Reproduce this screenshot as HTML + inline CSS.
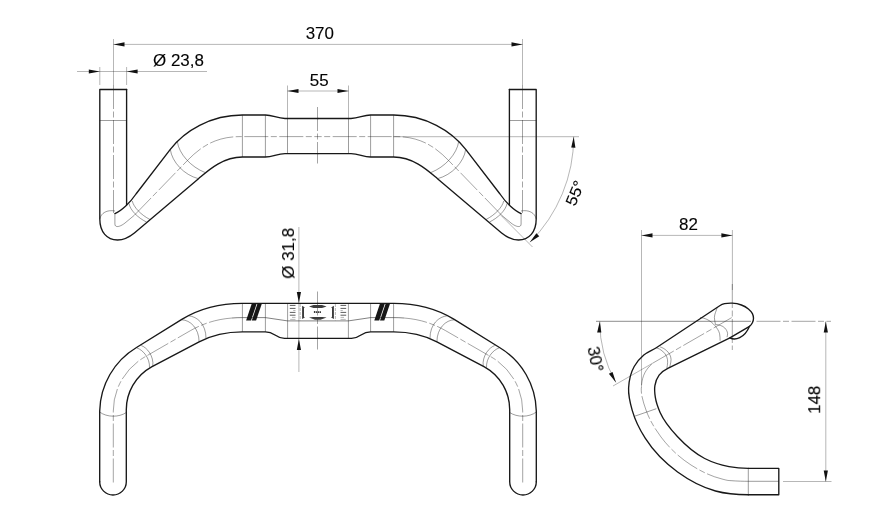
<!DOCTYPE html>
<html><head><meta charset="utf-8"><title>Handlebar drawing</title>
<style>
html,body{margin:0;padding:0;background:#fff;}
body{width:888px;height:521px;overflow:hidden;font-family:"Liberation Sans",sans-serif;}
svg{display:block;}
</style></head><body>
<svg width="888" height="521" viewBox="0 0 888 521">
<rect width="888" height="521" fill="#fff"/>
<g fill="none" stroke="#181818" stroke-width="1.35" stroke-linejoin="round" stroke-linecap="round">
<path d="M126.6,89.5 H99.8 V219 C99.8,232 107,240 117.5,240 C124,240 129.5,237 134.4,233 L198.5,178.7 C207,171.5 222,157 242.4,157 L265.4,157 C273,157 277,153.6 285,153.6 L287.5,153.6 L318,153.6"/>
<path d="M126.6,89.5 V205"/>
<path d="M114.9,213.6 C121,211 130,203 136,194 L170.3,149.4 C184.3,131 210.5,115 242.4,115 L265.4,115 C273,115 277,118.5 285,118.5 L287.5,118.5 L318,118.5"/>
<g transform="matrix(-1 0 0 1 636.0 0)">
<path d="M126.6,89.5 H99.8 V219 C99.8,232 107,240 117.5,240 C124,240 129.5,237 134.4,233 L198.5,178.7 C207,171.5 222,157 242.4,157 L265.4,157 C273,157 277,153.6 285,153.6 L287.5,153.6 L318,153.6"/>
<path d="M126.6,89.5 V205"/>
<path d="M114.9,213.6 C121,211 130,203 136,194 L170.3,149.4 C184.3,131 210.5,115 242.4,115 L265.4,115 C273,115 277,118.5 285,118.5 L287.5,118.5 L318,118.5"/>
</g>
<path d="M99.7,481.7 V411 A76,76 0 0 1 136.5,347.5 L181.8,319.4 C198,309.5 218,303.4 242.4,303.4 L318,303.4"/>
<path d="M99.7,481.7 A13.3,13.3 0 0 0 126.3,481.7 V411 A49,49 0 0 1 151.6,366.9 L199.1,341.8 C212,335 226,331.8 242.4,331.8 L265.4,331.8 C269.5,331.8 271.5,332.6 275,335 C278.5,337.4 280.5,338.4 284.5,338.4 L287.6,338.4 L318,338.4"/>
<g transform="matrix(-1 0 0 1 636.0 0)">
<path d="M99.7,481.7 V411 A76,76 0 0 1 136.5,347.5 L181.8,319.4 C198,309.5 218,303.4 242.4,303.4 L318,303.4"/>
<path d="M99.7,481.7 A13.3,13.3 0 0 0 126.3,481.7 V411 A49,49 0 0 1 151.6,366.9 L199.1,341.8 C212,335 226,331.8 242.4,331.8 L265.4,331.8 C269.5,331.8 271.5,332.6 275,335 C278.5,337.4 280.5,338.4 284.5,338.4 L287.6,338.4 L318,338.4"/>
</g></g><g fill="none" stroke="#1a1a1a" stroke-width="0.43">
<path d="M99.8,120.5 H126.6"/>
<path d="M99.8,219 C101,213 107,209.5 115,211"/>
<path d="M114.9,213.6 V224 C114.9,228 120,227 125,223 L134.4,215.2"/>
<path d="M129,203.5 C130,210 138,218 146.5,222"/>
<path d="M132.3,201 C133.5,207 141,215 150,219.5"/>
<path d="M170.3,149.4 C172,162 184,175 198.5,178.7"/>
<path d="M177.3,141.5 C179,154 191,167 205,172.5"/>
<path d="M242.4,115 V157 M265.4,115 V157 M287.5,118.5 V153.6"/>
<g transform="matrix(-1 0 0 1 636.0 0)">
<path d="M99.8,120.5 H126.6"/>
<path d="M99.8,219 C101,213 107,209.5 115,211"/>
<path d="M114.9,213.6 V224 C114.9,228 120,227 125,223 L134.4,215.2"/>
<path d="M129,203.5 C130,210 138,218 146.5,222"/>
<path d="M132.3,201 C133.5,207 141,215 150,219.5"/>
<path d="M170.3,149.4 C172,162 184,175 198.5,178.7"/>
<path d="M177.3,141.5 C179,154 191,167 205,172.5"/>
<path d="M242.4,115 V157 M265.4,115 V157 M287.5,118.5 V153.6"/>
</g>
<path d="M242.4,303.4 V331.8 M265.4,303.4 V331.8 M287.6,303.4 V338.4"/>
<path d="M99.6,412 C107,417.5 119,417.5 126.3,412.5"/>
<path d="M232,318 C235,317.7 239,317.6 242.4,317.6 L265.4,317.6 L287.6,320.9 L318,320.9" stroke="#1a1a1a" stroke-width="0.55"/>
<path d="M136.9,347.9 C143,350 150,358 149.5,367.7"/>
<path d="M141.2,345.5 C147,347.5 154,356 152.8,366.2"/>
<path d="M181.8,319.8 C190,320 199,328 199.1,341.8"/>
<path d="M188.7,315.8 C197,316.5 206,324 206,338.2"/>
<g transform="matrix(-1 0 0 1 636.0 0)">
<path d="M242.4,303.4 V331.8 M265.4,303.4 V331.8 M287.6,303.4 V338.4"/>
<path d="M99.6,412 C107,417.5 119,417.5 126.3,412.5"/>
<path d="M232,318 C235,317.7 239,317.6 242.4,317.6 L265.4,317.6 L287.6,320.9 L318,320.9" stroke="#1a1a1a" stroke-width="0.55"/>
<path d="M136.9,347.9 C143,350 150,358 149.5,367.7"/>
<path d="M141.2,345.5 C147,347.5 154,356 152.8,366.2"/>
<path d="M181.8,319.8 C190,320 199,328 199.1,341.8"/>
<path d="M188.7,315.8 C197,316.5 206,324 206,338.2"/>
</g></g><g fill="none" stroke="#1a1a1a" stroke-width="0.4" stroke-dasharray="24 2.5 6 2.5">
<path d="M113.5,85 V213"/>
<path d="M134.4,215.2 L187.4,160.5 C200,147.5 215,136.6 240,136.6 L318,136.6"/>
<g transform="matrix(-1 0 0 1 636.0 0)">
<path d="M113.5,85 V213"/>
<path d="M134.4,215.2 L187.4,160.5 C200,147.5 215,136.6 240,136.6 L318,136.6"/>
</g>
<path d="M113.3,482.5 V411 A62.5,62.5 0 0 1 144.2,357.3 L190.5,330.6 C203,323.5 216,319.3 232,318"/>
<g transform="matrix(-1 0 0 1 636.0 0)">
<path d="M113.3,482.5 V411 A62.5,62.5 0 0 1 144.2,357.3 L190.5,330.6 C203,323.5 216,319.3 232,318"/>
</g></g><g fill="none" stroke="#1a1a1a" stroke-width="0.4" stroke-dasharray="24 2.5 6 2.5"><path d="M317.5,107 V163.5"/><path d="M317.5,291.5 V349.5"/></g>
<g fill="none" stroke="#1a1a1a" stroke-width="0.32">
<path d="M113.5,39 V85 M522.5,39 V85 M113.5,44.4 H522.5"/>
<path d="M99.8,67 V85 M126.6,67 V85 M77,71.5 H207"/>
<path d="M287.5,85.5 V118.6 M348.5,85.5 V118.6 M287.5,91 H348.5"/>
<path d="M393,136.7 H579"/>
<path d="M573.7,136.7 A149.2 149.2 0 0 1 530,242.2"/>
<path d="M500.8,215.2 L532.5,247"/>
<path d="M298.9,227 V372"/>
</g>
<path transform="translate(113.5 44.4) rotate(180)" d="M0,0 L-11,-2.1 L-11,2.1 Z" fill="#111"/><path transform="translate(522.5 44.4) rotate(0)" d="M0,0 L-11,-2.1 L-11,2.1 Z" fill="#111"/>
<path transform="translate(99.8 71.5) rotate(0)" d="M0,0 L-11,-2.1 L-11,2.1 Z" fill="#111"/><path transform="translate(126.6 71.5) rotate(180)" d="M0,0 L-11,-2.1 L-11,2.1 Z" fill="#111"/>
<path transform="translate(287.5 91) rotate(180)" d="M0,0 L-11,-2.1 L-11,2.1 Z" fill="#111"/><path transform="translate(348.5 91) rotate(0)" d="M0,0 L-11,-2.1 L-11,2.1 Z" fill="#111"/>
<path transform="translate(573.7 136.7) rotate(-88)" d="M0,0 L-11,-2.1 L-11,2.1 Z" fill="#111"/><path transform="translate(529.8 242.3) rotate(137)" d="M0,0 L-11,-2.1 L-11,2.1 Z" fill="#111"/>
<path transform="translate(298.9 302.9) rotate(90)" d="M0,0 L-11,-2.1 L-11,2.1 Z" fill="#111"/><path transform="translate(298.9 339) rotate(-90)" d="M0,0 L-11,-2.1 L-11,2.1 Z" fill="#111"/>

<g fill="#161616">
<path d="M246.1,320.6 L251,320.6 L256.7,303.6 L251.8,303.6 Z"/>
<path d="M251.8,320.6 L256.1,320.6 L261.9,303.6 L257.5,303.6 Z"/>
<path d="M374.3,320.6 L379.2,320.6 L384.9,303.6 L380,303.6 Z"/>
<path d="M380,320.6 L384.3,320.6 L390.1,303.6 L385.7,303.6 Z"/>
</g>

<g fill="none"><path d="M289.8,305.4 H295.5 M340.5,305.4 H346.2 M289.8,308.4 H295.5 M340.5,308.4 H346.2 M289.8,312.4 H295.5 M340.5,312.4 H346.2 M289.8,315.2 H295.5 M340.5,315.2 H346.2 " stroke="#4a4a4a" stroke-width="0.9"/><path d="M293.2,310.5 H295.5 M340.5,310.5 H342.8 M292,317.4 H295.5 M340.5,317.4 H344 M290.2,319.4 H295.5 M340.5,319.4 H345.8 " stroke="#999" stroke-width="0.7"/>
<path d="M300.2,304 V320.5 M335.4,304 V320.5" stroke="#888" stroke-width="0.6" stroke-dasharray="3 1"/></g>
<g fill="#3c3c3c">
<path d="M302.1,305.8 L304.9,307.4 L304,308 L304,316.8 L304.9,317.4 L302.1,318.9 Z"/>
<path d="M333.9,305.8 L331.1,307.4 L332,308 L332,316.8 L331.1,317.4 L333.9,318.9 Z"/>
<path d="M309,306.5 L313.5,304.9 H322 L326.6,306.5 L322,307.9 H313.5 Z"/>
<path d="M309,317.5 L313,316.9 H322.5 L326.6,317.5 L320.5,319.7 H315 Z"/>
<path d="M313.9,311 h1.5 v2 h-1.5 Z M316,311.2 h1.3 v1.8 h-1.3 Z M317.9,311.2 h1.3 v1.8 h-1.3 Z M319.7,311.2 h1.3 v1.8 h-1.3 Z"/>
</g>

<g fill="none" stroke="#181818" stroke-width="1.35" stroke-linejoin="round" stroke-linecap="round">
<path d="M748.3,494.7 H778.8 V468.4 H748.3"/>
<path d="M748.30,494.70 C737.30,494.70 726.11,493.90 715.50,491.00 C701.87,487.28 689.04,480.29 677.60,472.00 C664.96,462.84 653.57,451.37 645.20,438.20 C639.76,429.63 635.11,420.36 632.30,410.60 C630.19,403.26 628.22,395.62 628.60,388.00 C628.97,380.60 630.53,372.93 634.20,366.50 C636.68,362.16 639.98,358.21 643.80,355.00 C647.49,351.90 652.27,350.35 656.30,347.70 L720.1,305.5 C723.53,303.25 728.10,303.08 732.20,303.20 C735.32,303.29 738.49,303.87 741.40,305.00 C743.91,305.97 746.36,307.25 748.40,309.00 C749.94,310.33 751.53,311.77 752.40,313.60 C753.08,315.02 753.50,316.62 753.50,318.20 C753.50,319.78 753.11,321.39 752.40,322.80 C751.72,324.15 750.81,325.54 749.50,326.30 L729.9,337.8 L667.8,368.4 C664.52,370.02 661.32,372.19 659.10,375.10 C656.80,378.12 655.55,381.96 654.90,385.70 C654.24,389.48 654.74,393.41 655.30,397.20 C656.08,402.49 657.94,407.61 660.10,412.50 C664.13,421.63 670.80,429.49 677.60,436.80 C685.49,445.27 694.39,453.24 704.70,458.50 C712.31,462.38 720.62,464.98 729.00,466.60 C735.34,467.83 741.84,468.40 748.30,468.40 "/>
<path d="M729.9,337.8 C735,340.6 744.5,338.5 749.5,326.3"/>
</g>
<g fill="none" stroke="#1a1a1a" stroke-width="0.43">
<path d="M748.3,468.4 V494.7 M730,480.6 C738,481.2 744,481.3 748.3,481.3 H778.8"/>
<path d="M634.2,416.4 L656.3,408.7"/>
<path d="M700.00,317.60 C702.38,317.60 704.73,318.43 706.90,319.40 C710.02,320.80 712.78,323.10 715.00,325.70 C716.99,328.04 718.79,330.73 719.60,333.70 C720.21,335.96 719.93,338.37 720.10,340.70 "/><path d="M717.30,307.30 C716.33,310.73 714.44,314.03 714.40,317.60 C714.37,319.93 715.13,322.20 715.50,324.50 M715.50,324.50 C718.80,324.83 722.55,325.57 724.80,328.00 C726.24,329.55 727.49,331.59 727.60,333.70 C727.66,334.88 727.20,336.03 727.00,337.20 "/>
<path d="M656.30,347.70 C660.76,349.04 665.07,352.58 666.80,356.90 C668.23,360.46 667.55,364.64 666.80,368.40 "/><path d="M660.10,346.90 C664.75,348.30 669.35,352.23 670.70,356.90 C671.68,360.28 670.39,363.95 669.70,367.40 "/>
</g>
<g fill="none" stroke="#1a1a1a" stroke-width="0.32">
<path d="M641.5,230 V388 M732.4,230 V290 M641.5,235.4 H732.4"/>
<path d="M596,321.3 H751" stroke-width="0.5"/>
<path d="M599.8,321.5 A120.6 120.6 0 0 0 615.9,382.3"/>
<path d="M613,386 L653,363"/>
<path d="M825.8,321.5 V481.5"/>
<path d="M783,481.5 H831.5"/>
</g>
<g fill="none" stroke="#1a1a1a" stroke-width="0.4" stroke-dasharray="24 2.5 6 2.5">
<path d="M732.3,284 V350"/>
<path d="M756.5,321.3 H831"/>
<path d="M653,363 L731.7,317.6"/>
<path d="M730.00,480.60 C727.28,480.60 724.64,479.65 722.00,479.00 C710.99,476.29 700.53,471.14 691.00,465.00 C679.50,457.59 669.18,447.96 661.00,437.00 C654.84,428.75 649.39,419.72 646.00,410.00 C643.53,402.92 640.92,395.49 641.30,388.00 C641.57,382.69 642.47,377.17 645.00,372.50 C646.97,368.86 649.77,365.59 653.00,363.00 "/>
</g>
<path transform="translate(641.5 235.4) rotate(180)" d="M0,0 L-11,-2.1 L-11,2.1 Z" fill="#111"/><path transform="translate(732.4 235.4) rotate(0)" d="M0,0 L-11,-2.1 L-11,2.1 Z" fill="#111"/>
<path transform="translate(599.8 321.5) rotate(-87)" d="M0,0 L-11,-2.1 L-11,2.1 Z" fill="#111"/><path transform="translate(615.9 382.6) rotate(62)" d="M0,0 L-11,-2.1 L-11,2.1 Z" fill="#111"/>
<path transform="translate(825.8 321.5) rotate(-90)" d="M0,0 L-11,-2.1 L-11,2.1 Z" fill="#111"/><path transform="translate(825.8 481.5) rotate(90)" d="M0,0 L-11,-2.1 L-11,2.1 Z" fill="#111"/>

<g font-family="'Liberation Sans', sans-serif" fill="#000" stroke="#000" stroke-width="0.12" font-size="15.7" text-anchor="middle" opacity="0.995">
<text transform="translate(319.8 38.7) rotate(0) scale(1.08 1)">370</text>
<text transform="translate(178.5 65.8) rotate(0) scale(1.08 1)">Ø 23,8</text>
<text transform="translate(319.2 85.5) rotate(0) scale(1.08 1)">55</text>
<text transform="translate(688.5 229.7) rotate(0) scale(1.08 1)">82</text>
<text transform="translate(294 253.3) rotate(-90) scale(1.08 1)">Ø 31,8</text>
<text transform="translate(820.2 399.8) rotate(-90) scale(1.08 1)">148</text>
<text transform="translate(580 195.2) rotate(-67) scale(1.08 1)">55°</text>
<text transform="translate(589.8 360.2) rotate(79) scale(1.08 1)">30°</text>
</g>

</svg>
</body></html>
